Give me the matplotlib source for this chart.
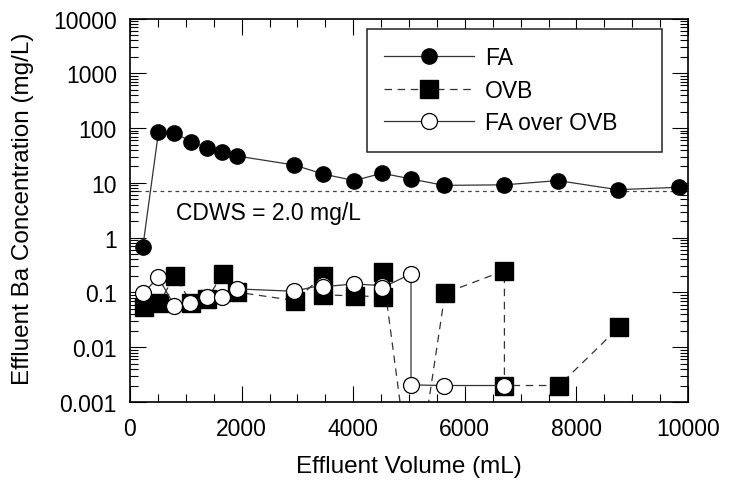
import matplotlib
matplotlib.use("Agg")
import matplotlib.pyplot as plt
from matplotlib.ticker import FixedLocator, LogLocator, NullFormatter, FixedFormatter

plt.rcParams['font.family'] = ['Liberation Sans', 'DejaVu Sans']

# ---- data ----
fa_x = [230, 510, 790, 1090, 1380, 1650, 1910, 2940, 3460, 4020, 4520, 5030, 5630, 6710, 7670, 8740, 9830]
fa_y = [0.68, 84, 83, 56.5, 43.4, 36.2, 31, 21.2, 14.5, 11.0, 15.0, 11.8, 9.0, 9.2, 11.0, 7.5, 8.3]

ovb_x = [250, 525, 800, 1100, 1385, 1660, 1920, 2960, 3460, 3460, 4030, 4530, 4530, 5080, 5645, 6710, 6710, 7690, 8760]
ovb_y = [0.054, 0.064, 0.203, 0.064, 0.076, 0.218, 0.101, 0.071, 0.203, 0.091, 0.086, 0.084, 0.24, 1.4e-5, 0.097, 0.25, 0.002, 0.002, 0.023]

fo_x = [238, 507, 794, 1081, 1375, 1654, 1912, 2944, 3464, 3464, 4020, 4521, 4521, 5036, 5036, 5630, 6708]
fo_y = [0.097, 0.189, 0.057, 0.065, 0.082, 0.084, 0.116, 0.105, 0.139, 0.127, 0.143, 0.133, 0.122, 0.218, 0.00205, 0.002, 0.002]

cdws_level = 7.0
cdws_label = "CDWS = 2.0 mg/L"

x_ticks = [0, 2000, 4000, 6000, 8000, 10000]
x_ticklabels = ["0", "2000", "4000", "6000", "8000", "10000"]
y_ticks = [0.001, 0.01, 0.1, 1, 10, 100, 1000, 10000]
y_ticklabels = ["0.001", "0.01", "0.1", "1", "10", "100", "1000", "10000"]

series_labels = ["FA", "OVB", "FA over OVB"]

# ---- figure ----
W, H = 729, 485
fig = plt.figure(figsize=(W / 100, H / 100), dpi=100)
ax = fig.add_axes([130 / W, 1 - 403 / H, (688 - 130) / W, (403 - 19.5) / H])

lc = '#333333'
lw = 0.9
ax.plot(fa_x, fa_y, '-', color=lc, lw=lw, marker='o', ms=11, mfc='black', mec='black',
        label=series_labels[0], zorder=3)
ax.plot(ovb_x, ovb_y, color=lc, lw=lw, ls=(0, (6, 4.5)), marker='s', ms=12.5, mfc='black',
        mec='black', label=series_labels[1], zorder=2)
ax.plot(fo_x, fo_y, '-', color=lc, lw=lw, marker='o', ms=11.5, mfc='white', mec='black',
        mew=0.9, label=series_labels[2], zorder=4)

ax.axhline(cdws_level, color='#444444', lw=0.9, ls=(0, (3, 3)), zorder=1)
ax.text(820, 2.9, cdws_label, fontsize=16.5, va='center', ha='left')

ax.set_yscale('log')
ax.set_xlim(0, 10000)
ax.set_ylim(0.001, 10000)

ax.xaxis.set_major_locator(FixedLocator(x_ticks))
ax.xaxis.set_major_formatter(FixedFormatter(x_ticklabels))
ax.xaxis.set_minor_locator(FixedLocator(list(range(0, 10001, 500))))
ax.yaxis.set_major_locator(FixedLocator(y_ticks))
ax.yaxis.set_major_formatter(FixedFormatter(y_ticklabels))
ax.yaxis.set_minor_locator(LogLocator(base=10, subs=range(2, 10), numticks=20))
ax.yaxis.set_minor_formatter(NullFormatter())

ax.tick_params(which='both', direction='in', top=True, right=True, color='black')
ax.tick_params(which='major', length=11.5, width=0.8, labelsize=16.5, pad=9.5)
ax.tick_params(axis='x', which='major', pad=11)
ax.tick_params(which='minor', length=5.8, width=0.8)
for s in ax.spines.values():
    s.set_linewidth(1.2)
    s.set_color('black')

fig.text(23 / W, 1 - 209 / H, "Effluent Ba Concentration (mg/L)", rotation=90,
         ha='center', va='center', fontsize=17.5)
fig.text(409 / W, 1 - 467 / H, "Effluent Volume (mL)", ha='center', va='center', fontsize=17.5)

leg = ax.legend(loc='upper left', bbox_to_anchor=(0.4247, 0.652, 0.5287, 0.3206),
                mode='expand', borderaxespad=0,
                fancybox=False, frameon=True, fontsize=16.5, handlelength=3.9,
                handletextpad=0.5, labelspacing=0.42, borderpad=0.75)
fr = leg.get_frame()
fr.set_edgecolor('#222222')
fr.set_linewidth(1.1)
fr.set_alpha(1)

fig.savefig("out.png", dpi=100)
